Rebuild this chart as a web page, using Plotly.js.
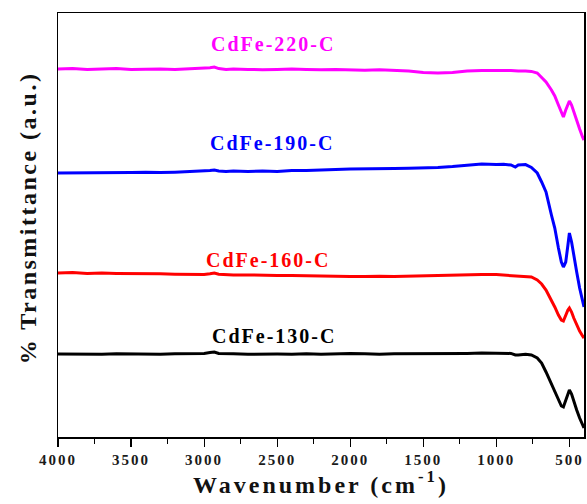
<!DOCTYPE html>
<html>
<head>
<meta charset="utf-8">
<script src="https://cdn.plot.ly/plotly-3.0.1.min.js"></script>
<style>
  html, body { margin: 0; padding: 0; background: #fff; }
  #chart { width: 587px; height: 504px; }
  /* spaced-out bold serif lettering */
  .xtitle { letter-spacing: 3px; }
  .annotation-text { letter-spacing: 2px; }
  .annotation.ylabel .annotation-text { letter-spacing: 2.5px; }
  .xtick text { letter-spacing: 2px; }
</style>
</head>
<body>
<div id="chart"></div>
<script>
// FTIR spectra, wavenumber in cm^-1 (shared sampling grid)
const wavenumber = [4000, 3900, 3800, 3700, 3600, 3500, 3400, 3300, 3200, 3100,
  3000, 2960, 2930, 2900, 2850, 2800, 2700, 2600, 2500, 2400,
  2300, 2200, 2100, 2000, 1900, 1800, 1700, 1600, 1500, 1400,
  1300, 1200, 1100, 1000, 950, 900, 870, 850, 800, 760,
  720, 690, 660, 623, 600, 575, 555, 541, 525, 510,
  500, 485, 470, 450, 430, 410, 400];

// % transmittance (a.u., offset stacked)
const cdfe220 = [92.0, 92.1, 91.9, 92.0, 92.1, 91.9, 92.0, 92.0, 91.9, 92.0,
  92.1, 92.3, 92.5, 92.1, 91.9, 92.0, 91.9, 91.8, 91.9, 92.0,
  91.9, 91.8, 91.9, 91.8, 91.7, 91.8, 91.7, 91.5, 91.1, 91.0,
  91.1, 91.5, 91.6, 91.7, 91.6, 91.6, 91.5, 91.5, 91.5, 91.4,
  91.0, 90.0, 88.75, 86.75, 85.25, 83.0, 81.0, 80.0, 81.75, 83.25,
  84.0, 83.0, 81.25, 79.25, 77.0, 75.0, 74.25];

const cdfe190 = [66.0, 66.0, 66.1, 66.0, 66.1, 66.1, 66.2, 66.1, 66.2, 66.3,
  66.4, 66.6, 66.75, 66.5, 66.4, 66.5, 66.4, 66.5, 66.4, 66.6,
  66.6, 66.8, 66.9, 67.0, 67.0, 67.1, 67.1, 67.2, 67.25, 67.4,
  67.6, 68.0, 68.25, 68.1, 68.2, 68.0, 67.5, 68.0, 68.1, 67.4,
  66.0, 63.75, 61.25, 55.5, 52.25, 47.25, 43.75, 42.5, 43.75, 48.0,
  51.0, 48.75, 45.25, 41.25, 37.25, 33.75, 32.5];

const cdfe160 = [41.0, 41.1, 40.9, 41.0, 40.9, 40.9, 40.8, 40.8, 40.7, 40.7,
  40.6, 40.8, 41.0, 40.7, 40.6, 40.5, 40.5, 40.4, 40.4, 40.4,
  40.3, 40.3, 40.2, 40.1, 40.1, 40.2, 40.1, 40.2, 40.25, 40.3,
  40.4, 40.5, 40.6, 40.6, 40.5, 40.4, 40.3, 40.3, 40.25, 40.0,
  39.25, 38.25, 36.75, 34.25, 32.5, 30.5, 29.25, 29.0, 30.5, 31.75,
  32.25, 31.25, 29.75, 28.0, 26.5, 25.25, 24.75];

const cdfe130 = [20.75, 20.7, 20.8, 20.7, 20.8, 20.75, 20.8, 20.7, 20.8, 20.8,
  20.9, 21.1, 21.25, 20.9, 20.8, 20.8, 20.7, 20.8, 20.75, 20.7,
  20.8, 20.7, 20.8, 20.9, 20.8, 20.7, 20.8, 20.8, 20.75, 20.8,
  20.9, 20.9, 21.0, 21.0, 20.9, 20.9, 20.5, 20.5, 20.7, 20.5,
  19.75, 18.5, 16.25, 13.25, 11.5, 9.25, 7.75, 7.5, 9.25, 11.0,
  11.75, 10.75, 8.75, 6.75, 4.75, 3.0, 2.25];

const sampleNames = ['CdFe-220-C', 'CdFe-190-C', 'CdFe-160-C', 'CdFe-130-C'];
const sampleColors = ['#ff00ff', '#0000ff', '#ff0000', '#000000'];
const sampleSeries = [cdfe220, cdfe190, cdfe160, cdfe130];
// label anchor for each curve (wavenumber, a.u.)
const labelX = [2530, 2535, 2560, 2525];
const labelY = [98.25, 73.5, 44.25, 25.25];

const xTicks = [4000, 3500, 3000, 2500, 2000, 1500, 1000, 500];

const serif = 'Times New Roman, Liberation Serif, DejaVu Serif, serif';

const traces = sampleSeries.map((ys, i) => ({
  x: wavenumber,
  y: ys,
  type: 'scatter',
  mode: 'lines',
  name: sampleNames[i],
  line: { color: sampleColors[i], width: 3 },
  hoverinfo: 'skip'
}));

const annotations = sampleNames.map((name, i) => ({
  x: labelX[i],
  y: labelY[i],
  xref: 'x',
  yref: 'y',
  text: '<b>' + name + '</b>',
  showarrow: false,
  xanchor: 'center',
  yanchor: 'middle',
  font: { family: serif, size: 20, color: sampleColors[i] }
}));

// vertical axis title, drawn as a rotated paper-anchored label
annotations.push({
  x: -0.057,
  y: 0.517,
  xref: 'paper',
  yref: 'paper',
  text: '<b>% Transmittance (a.u.)</b>',
  textangle: -90,
  showarrow: false,
  xanchor: 'center',
  yanchor: 'middle',
  name: 'ylabel',
  font: { family: serif, size: 24, color: '#111' }
});

const layout = {
  width: 587,
  height: 504,
  margin: { l: 58, r: 3, t: 13, b: 67 },
  paper_bgcolor: '#ffffff',
  plot_bgcolor: '#ffffff',
  showlegend: false,
  font: { family: serif },
  annotations: annotations,
  xaxis: {
    range: [4000, 400],
    tickvals: xTicks,
    ticktext: xTicks.map(v => '<b>' + v + '</b>'),
    ticks: 'outside',
    ticklen: 8,
    tickwidth: 1.2,
    tickcolor: '#000',
    ticklabelstandoff: 0,
    minor: { tickvals: [3750, 3250, 2750, 2250, 1750, 1250, 750], ticks: 'outside', ticklen: 5, tickwidth: 1.2, tickcolor: '#000' },
    showline: true,
    linecolor: '#000',
    linewidth: 1.5,
    mirror: true,
    showgrid: false,
    zeroline: false,
    tickfont: { family: serif, size: 15, color: '#1a1a1a' },
    title: {
      text: '<b>Wavenumber (cm<sup>-1</sup>)</b>',
      font: { family: serif, size: 24, color: '#111' },
      standoff: 6
    },
    automargin: false
  },
  yaxis: {
    range: [0, 106],
    showticklabels: false,
    ticks: '',
    showline: true,
    linecolor: '#000',
    linewidth: 1.5,
    mirror: true,
    showgrid: false,
    zeroline: false,
    automargin: false
  }
};

Plotly.newPlot('chart', traces, layout, { displayModeBar: false, staticPlot: true }).then(gd => {
  // tag the rotated axis label so its letter spacing can be styled separately
  const notes = gd.querySelectorAll('.annotation');
  if (notes.length) notes[notes.length - 1].classList.add('ylabel');
});
</script>
</body>
</html>
